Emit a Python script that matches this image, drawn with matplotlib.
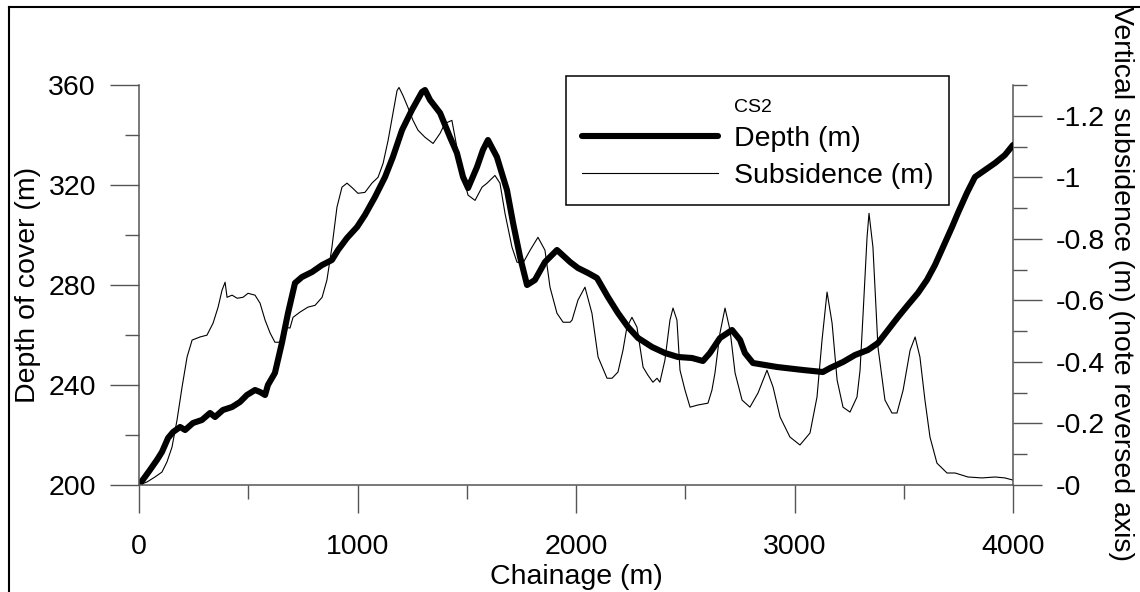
import matplotlib
matplotlib.use("Agg")
import matplotlib.pyplot as plt
from matplotlib.lines import Line2D
from matplotlib.ticker import MultipleLocator, FixedLocator, FixedFormatter

# chainage (m) and depth of cover (m)
DEPTH_X = [0, 27, 50, 82, 105, 133, 156, 188, 211, 247, 288, 325, 348, 384, 426,
           462, 494, 531, 554, 577, 590, 622, 654, 682, 714, 746, 792, 838, 883,
           911, 952, 998, 1034, 1080, 1126, 1162, 1204, 1249, 1295, 1309, 1332,
           1378, 1423, 1455, 1483, 1506, 1547, 1574, 1597, 1638, 1684, 1712, 1744,
           1776, 1812, 1858, 1913, 1973, 2009, 2055, 2096, 2146, 2192, 2238, 2284,
           2348, 2407, 2467, 2531, 2581, 2613, 2659, 2714, 2751, 2773, 2810, 2920,
           3039, 3130, 3163, 3222, 3277, 3336, 3382, 3428, 3474, 3519, 3565, 3606,
           3643, 3680, 3721, 3748, 3789, 3826, 3872, 3918, 3963, 4000]
DEPTH_Y = [200, 203.2, 206, 210, 213.2, 218.8, 221.2, 223.2, 222, 224.8, 226, 228.8,
           227.2, 230, 231.2, 233.2, 236, 238, 237.2, 236, 240, 244.8, 256.8, 268.8,
           280.8, 283.2, 285.2, 288, 290, 294, 298.8, 303.2, 308, 315.2, 323.2,
           331.2, 342, 350, 357.2, 358, 354, 348.8, 339.2, 332.8, 323.2, 318.8,
           327.2, 334, 338, 331.2, 318, 304.8, 291.2, 280, 282, 289.2, 294, 289.2,
           286.8, 284.8, 282.8, 275.2, 268.8, 263.2, 258.8, 255.2, 252.8, 251.2,
           250.8, 249.6, 252.8, 258.8, 262, 258, 252.8, 248.8, 247.2, 246, 245.2,
           246.8, 249.2, 252, 254, 256.8, 262, 267.2, 272, 276.8, 282, 288, 295.2,
           303.2, 308.8, 316.8, 323.2, 326, 328.8, 332, 336]

# chainage (m) and vertical subsidence (m)
SUB_X = [0, 37, 73, 105, 128, 151, 174, 197, 220, 243, 279, 311, 339, 362, 380, 394,
         403, 426, 449, 476, 499, 531, 554, 577, 600, 622, 645, 668, 691, 705, 737,
         773, 806, 838, 860, 883, 906, 929, 952, 979, 1002, 1034, 1066, 1094, 1117,
         1140, 1162, 1181, 1190, 1208, 1231, 1254, 1277, 1309, 1346, 1378, 1400,
         1432, 1455, 1478, 1506, 1538, 1570, 1593, 1629, 1652, 1675, 1707, 1730,
         1757, 1790, 1826, 1858, 1881, 1913, 1941, 1973, 1982, 2009, 2041, 2073,
         2101, 2142, 2165, 2192, 2215, 2233, 2256, 2279, 2307, 2329, 2352, 2371,
         2384, 2407, 2430, 2444, 2462, 2476, 2499, 2522, 2558, 2604, 2622, 2636,
         2659, 2682, 2705, 2728, 2760, 2796, 2833, 2874, 2902, 2934, 2979, 3025,
         3071, 3103, 3126, 3149, 3172, 3195, 3222, 3254, 3286, 3300, 3314, 3332,
         3341, 3359, 3382, 3414, 3446, 3469, 3497, 3529, 3552, 3574, 3597, 3620,
         3652, 3698, 3735, 3794, 3858, 3918, 3963, 4000]
SUB_Y = [0, -0.010, -0.026, -0.042, -0.075, -0.123, -0.211, -0.318, -0.416, -0.471,
         -0.481, -0.487, -0.526, -0.578, -0.633, -0.659, -0.610, -0.617, -0.607,
         -0.610, -0.623, -0.617, -0.591, -0.536, -0.494, -0.464, -0.464, -0.513,
         -0.510, -0.545, -0.562, -0.578, -0.584, -0.610, -0.666, -0.773, -0.903,
         -0.968, -0.981, -0.964, -0.948, -0.951, -0.981, -1.000, -1.045, -1.120,
         -1.208, -1.282, -1.292, -1.266, -1.227, -1.185, -1.153, -1.130, -1.110,
         -1.143, -1.175, -1.185, -1.097, -1.013, -0.942, -0.925, -0.968, -0.981,
         -1.006, -0.981, -0.883, -0.773, -0.724, -0.721, -0.763, -0.805, -0.763,
         -0.643, -0.558, -0.529, -0.529, -0.536, -0.601, -0.643, -0.558, -0.416,
         -0.347, -0.347, -0.367, -0.438, -0.513, -0.545, -0.513, -0.383, -0.357,
         -0.334, -0.347, -0.334, -0.406, -0.536, -0.575, -0.536, -0.373, -0.308,
         -0.253, -0.260, -0.266, -0.308, -0.364, -0.494, -0.575, -0.503, -0.364,
         -0.276, -0.253, -0.299, -0.373, -0.318, -0.221, -0.156, -0.130, -0.169,
         -0.286, -0.471, -0.627, -0.526, -0.341, -0.253, -0.237, -0.286, -0.373,
         -0.558, -0.805, -0.883, -0.773, -0.448, -0.276, -0.234, -0.234, -0.308,
         -0.438, -0.481, -0.416, -0.276, -0.156, -0.071, -0.039, -0.039, -0.026,
         -0.023, -0.026, -0.023, -0.016]

SUB_TICKS = [0, -0.2, -0.4, -0.6, -0.8, -1.0, -1.2]
SUB_TICK_LABELS = ["-0", "-0.2", "-0.4", "-0.6", "-0.8", "-1", "-1.2"]

FS = 20.5
AXIS_GREY = "#555555"

plt.rcParams["font.family"] = ["Liberation Sans", "DejaVu Sans"]

fig = plt.figure(figsize=(11.4, 5.92), dpi=100)
ax = fig.add_axes([139 / 1140, 107 / 592, 874 / 1140, 400 / 592])
ax2 = ax.twinx()

# depth line sits above the subsidence line
ax.set_zorder(ax2.get_zorder() + 1)
ax.patch.set_visible(False)

depth_line, = ax.plot(DEPTH_X, DEPTH_Y, color="black", lw=4.4,
                      solid_joinstyle="round", solid_capstyle="round")
sub_line, = ax2.plot(SUB_X, SUB_Y, color="black", lw=0.8)

ax.set_xlim(0, 4000)
ax.set_ylim(200, 360)
ax2.set_ylim(0, -1.3)

ax.xaxis.set_major_locator(MultipleLocator(1000))
ax.xaxis.set_minor_locator(MultipleLocator(500))
ax.yaxis.set_major_locator(MultipleLocator(40))
ax.yaxis.set_minor_locator(MultipleLocator(20))
ax2.yaxis.set_major_locator(FixedLocator(SUB_TICKS))
ax2.yaxis.set_major_formatter(FixedFormatter(SUB_TICK_LABELS))
ax2.yaxis.set_minor_locator(MultipleLocator(0.1))

for a in (ax, ax2):
    for s in a.spines.values():
        s.set_color(AXIS_GREY)
        s.set_linewidth(1.1)
    a.spines["top"].set_visible(False)
ax.spines["right"].set_visible(False)
ax2.spines["left"].set_visible(False)
ax2.spines["bottom"].set_visible(False)

ax.tick_params(axis="x", which="major", direction="out", length=20, width=1,
               color=AXIS_GREY, labelsize=FS, pad=15)
ax.tick_params(axis="x", which="minor", direction="out", length=10, width=1,
               color=AXIS_GREY)
ax.tick_params(axis="y", which="major", direction="out", length=21, width=1,
               color=AXIS_GREY, labelsize=FS, pad=10)
ax.tick_params(axis="y", which="minor", direction="out", length=10, width=1,
               color=AXIS_GREY)
ax2.tick_params(axis="y", which="major", direction="out", length=21, width=1,
                color=AXIS_GREY, labelsize=FS, pad=10)
ax2.tick_params(axis="y", which="minor", direction="out", length=10, width=1,
                color=AXIS_GREY)

ax.set_xlabel("Chainage (m)", fontsize=FS, labelpad=3)
ax.set_ylabel("Depth of cover (m)", fontsize=FS, labelpad=5)
fig.text(1121 / 1140, 1 - 284 / 592, "Vertical subsidence (m) (note reversed axis)",
         rotation=-90, fontsize=FS, ha="center", va="center")

# legend with a small "CS2" heading row
blank = Line2D([], [], color="none")
leg = ax.legend([blank, depth_line, sub_line],
                ["CS2", "Depth (m)", "Subsidence (m)"],
                loc="upper left", bbox_to_anchor=(566 / 1140, 1 - 76 / 592),
                bbox_transform=fig.transFigure, borderaxespad=0,
                fontsize=FS, handlelength=4.8, handletextpad=0.55,
                borderpad=0.55, labelspacing=0.38, frameon=True, fancybox=False,
                framealpha=1)
leg.get_frame().set_edgecolor("black")
leg.get_frame().set_linewidth(1.1)
leg.get_texts()[0].set_fontsize(14)

# outer frame, cut off at the right and bottom edges
fig.add_artist(Line2D([8.5 / 1140, 1], [1 - 7 / 592, 1 - 7 / 592],
                      transform=fig.transFigure, color="black", lw=1.5))
fig.add_artist(Line2D([8.5 / 1140, 8.5 / 1140], [0, 1 - 7 / 592],
                      transform=fig.transFigure, color="black", lw=1.5))

fig.savefig("out.png", dpi=100)
